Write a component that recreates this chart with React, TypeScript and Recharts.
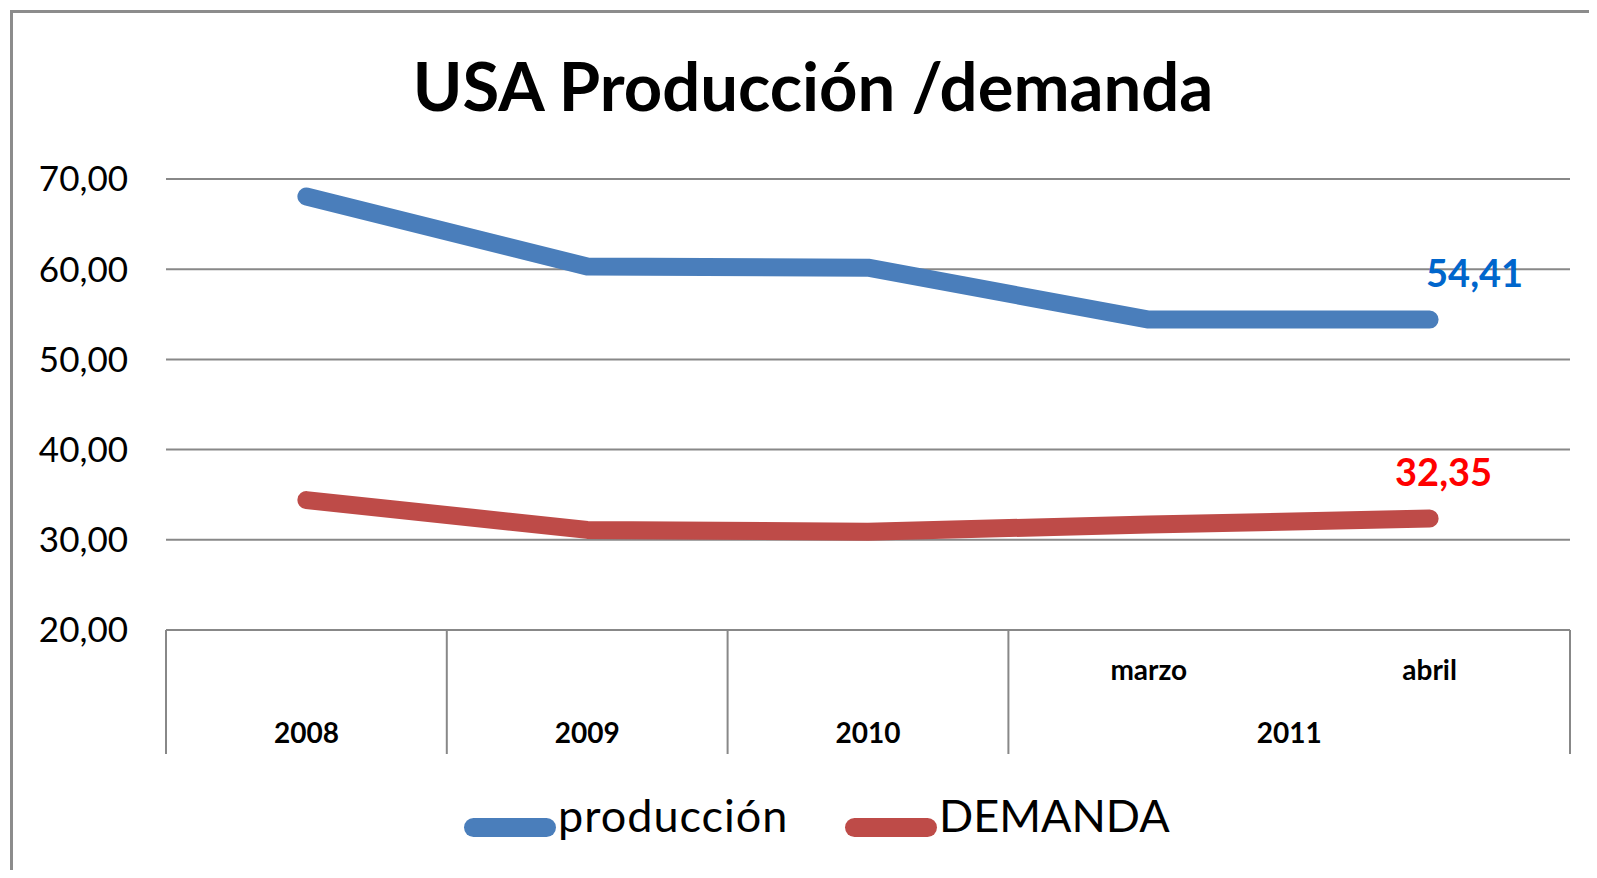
import { CartesianGrid, ComposedChart, LabelList, Line, XAxis, YAxis } from 'recharts';

const years = ['2008', '2009', '2010', '2011', '2011'];
const months = ['', '', '', 'marzo', 'abril'];
const produccion = [68.07, 60.3, 60.17, 54.41, 54.41];
const demanda = [34.4, 31.1, 30.9, 31.7, 32.35];
const yTicks = [20, 30, 40, 50, 60, 70];

const series = [
  { key: 'produccion', name: 'producción', color: '#4a7ebb', labelColor: '#0066cc', labelDx: 45 },
  { key: 'demanda', name: 'DEMANDA', color: '#be4b48', labelColor: '#ff0000', labelDx: 14 },
];

const data = years.map((year, i) => ({
  cat: `${year}-${months[i]}`,
  produccion: produccion[i],
  demanda: demanda[i],
}));

const W = 1597;
const H = 878;
const margin = { top: 179, right: 27, left: 10, bottom: 123 };
const yAxisWidth = 156;
const xAxisHeight = 125;
const band = (W - margin.left - margin.right - yAxisWidth) / years.length;
const grid = '#888888';
const font = 'Lato, "Open Sans", sans-serif';

const fmt = (v: number) => v.toFixed(2).replace('.', ',');

function CategoryTick(props: any) {
  const { x, y, payload } = props;
  const i = payload.index ?? props.index;
  const half = payload.offset || band / 2;
  const year = years[i];
  const first = i === 0 || years[i - 1] !== year;
  const last = i === years.length - 1;
  let end = i;
  while (end + 1 < years.length && years[end + 1] === year) end++;
  const groupCenter = x + (end - i) * half;
  return (
    <g>
      {first && <line x1={x - half} x2={x - half} y1={y} y2={y + 124} stroke={grid} strokeWidth={2} />}
      {last && <line x1={x + half} x2={x + half} y1={y} y2={y + 124} stroke={grid} strokeWidth={2} />}
      {months[i] && (
        <text x={x} y={y + 50} textAnchor="middle" fontFamily={font} fontWeight={700} fontSize={28} fill="#000">
          {months[i]}
        </text>
      )}
      {first && (
        <text x={groupCenter} y={y + 113} textAnchor="middle" fontFamily={font} fontWeight={700} fontSize={28} fill="#000">
          {year}
        </text>
      )}
    </g>
  );
}

function lastLabel(color: string, dx: number) {
  return (props: any) => {
    const { x, y, value, index } = props;
    if (index !== years.length - 1) return null;
    return (
      <text x={x + dx} y={y - 33} textAnchor="middle" fontFamily={font} fontWeight={700} fontSize={38} fill={color}>
        {fmt(value)}
      </text>
    );
  };
}

export default function App() {
  return (
    <div style={{ position: 'relative', width: W, height: H, margin: -8, background: '#fff', overflow: 'hidden', fontFamily: font }}>
      <div style={{ position: 'absolute', left: 0, top: 0, width: 90, height: 6, background: 'linear-gradient(to right, #ffffff, #c9d83c 40%, #c9d83c)' }} />
      <div style={{ position: 'absolute', left: 10, top: 10, width: W, height: H, borderTop: '3px solid #8c8c8c', borderLeft: '3px solid #8c8c8c' }} />
      <div
        style={{
          position: 'absolute',
          left: 813,
          top: 52,
          transform: 'translateX(-50%)',
          whiteSpace: 'nowrap',
          fontSize: 67,
          lineHeight: '67px',
          fontWeight: 700,
          color: '#000',
        }}
      >
        USA Producción /demanda
      </div>
      <div style={{ position: 'absolute', left: 0, top: 0 }}>
        <ComposedChart width={W} height={H} data={data} margin={margin}>
          <CartesianGrid vertical={false} stroke={grid} strokeWidth={2} />
          <XAxis
            dataKey="cat"
            scale="band"
            height={xAxisHeight}
            interval={0}
            tickLine={false}
            tickSize={0}
            tickMargin={0}
            axisLine={{ stroke: grid, strokeWidth: 2 }}
            tick={<CategoryTick />}
          />
          <YAxis
            width={yAxisWidth}
            domain={[20, 70]}
            ticks={yTicks}
            tickFormatter={fmt}
            axisLine={false}
            tickLine={false}
            tickSize={0}
            tickMargin={38}
            tick={{ fontFamily: font, fontSize: 35, fill: '#000' }}
          />
          {series.map((s) => (
            <Line
              key={s.key}
              type="linear"
              dataKey={s.key}
              name={s.name}
              stroke={s.color}
              strokeWidth={18}
              strokeLinecap="round"
              strokeLinejoin="round"
              dot={false}
              activeDot={false}
              isAnimationActive={false}
            >
              <LabelList dataKey={s.key} content={lastLabel(s.labelColor, s.labelDx)} />
            </Line>
          ))}
        </ComposedChart>
      </div>
      {series.map((s, i) => (
        <div key={s.key} style={{ position: 'absolute', left: i === 0 ? 464 : 845, top: 793, display: 'flex', alignItems: 'center', height: 44 }}>
          <div style={{ width: 92, height: 19, borderRadius: 10, background: s.color, marginTop: 24 }} />
          <span style={{ fontSize: 45, lineHeight: '44px', color: '#000', marginLeft: 2, letterSpacing: i === 0 ? 1 : 0 }}>{s.name}</span>
        </div>
      ))}
    </div>
  );
}
